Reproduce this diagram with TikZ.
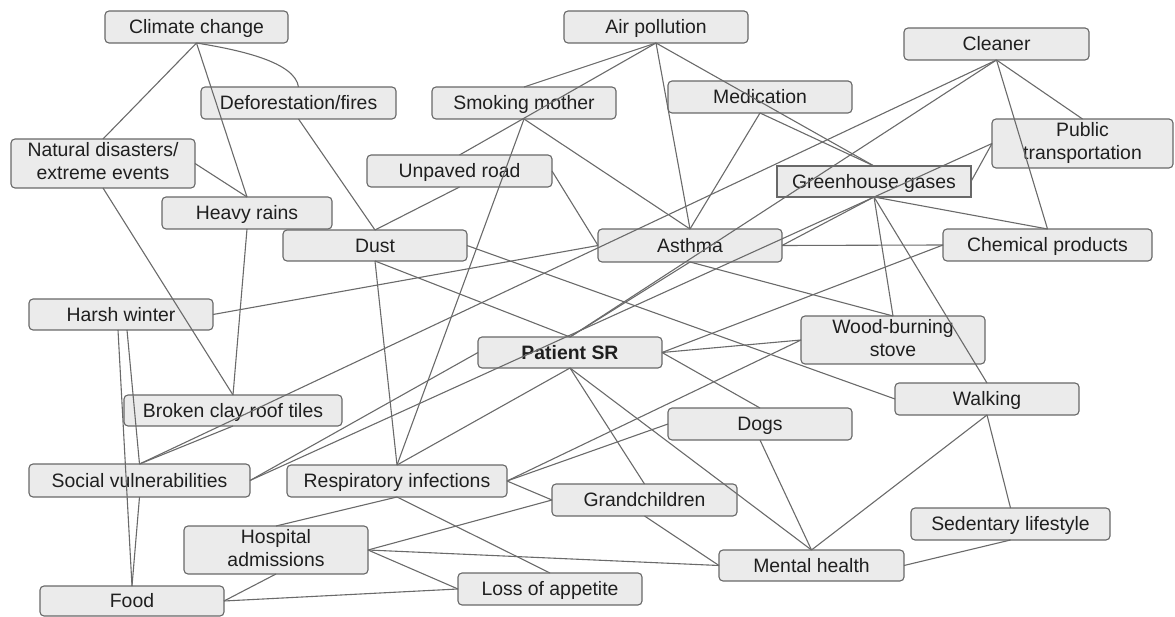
\documentclass[tikz,border=0pt]{standalone}
\usepackage{fontspec}
\setmainfont{Liberation Sans}
\definecolor{ln}{HTML}{6A6A6A}
\definecolor{bf}{HTML}{EBEBEB}
\definecolor{bd}{HTML}{686868}
\newcommand\ms{\rule[-4.1pt]{0pt}{21.7pt}}
\tikzset{
  box/.style={draw=bd, fill=bf, line width=1.1pt, rounded corners=4pt,
    inner sep=0pt, outer sep=0pt, minimum width=184pt, minimum height=32pt,
    align=center, font=\fontsize{19.4}{23}\selectfont, text=black!88,
    execute at begin node=\ms},
  conn/.style={draw=ln, line width=1.1pt},
}
\begin{document}
\begin{tikzpicture}[x=1pt,y=-1pt]
\useasboundingbox (0,0) rectangle (1175,617);
% nodes
\node[box, minimum width=183pt] (cc) at (196.5,27) {Climate change};
\node[box, minimum width=195pt] (def) at (298.5,103) {Deforestation/fires};
\node[box, minimum height=49pt] (nd) at (103,163.5) {Natural disasters/\\\ms extreme events};
\node[box, minimum width=170pt] (hr) at (247,213) {Heavy rains};
\node[box] (ap) at (656,27) {Air pollution};
\node[box] (sm) at (524,103) {Smoking mother};
\node[box] (med) at (760,97) {Medication};
\node[box, minimum width=185pt] (ur) at (459.5,171) {Unpaved road};
\node[box, minimum width=185pt] (cl) at (996.5,44) {Cleaner};
\node[box, minimum width=181pt, minimum height=49pt] (pt) at (1082.5,143.5) {Public\\\ms transportation};
\node[box, minimum width=194pt, minimum height=31pt, rounded corners=0pt] (gg) at (874,181.5) {Greenhouse gases};
\node[box, minimum height=31pt] (hw) at (121,314.5) {Harsh winter};
\node[box, minimum height=31pt] (dust) at (375,245.5) {Dust};
\node[box, minimum width=218pt, minimum height=31pt] (bct) at (233,410.5) {Broken clay roof tiles};
\node[box, minimum height=33pt] (asth) at (690,245.5) {Asthma};
\node[box, minimum height=31pt, font=\fontsize{19.4}{23}\selectfont\bfseries] (psr) at (570,352.5) {Patient SR};
\node[box, minimum width=209pt] (chem) at (1047.5,245) {Chemical products};
\node[box, minimum height=48pt] (wood) at (893,340) {Wood-burning\\\ms stove};
\node[box] (walk) at (987,399) {Walking};
\node[box, minimum width=221pt, minimum height=33pt] (sv) at (139.5,480.5) {Social vulnerabilities};
\node[box, minimum width=220pt] (resp) at (397,481) {Respiratory infections};
\node[box, minimum height=48pt] (hosp) at (276,550) {Hospital\\\ms admissions};
\node[box, minimum height=30pt] (food) at (132,601) {Food};
\node[box] (dogs) at (760,424) {Dogs};
\node[box, minimum width=185pt] (grand) at (644.5,500) {Grandchildren};
\node[box] (loss) at (550,589) {Loss of appetite};
\node[box, minimum width=185pt, minimum height=31pt] (mental) at (811.5,565.5) {Mental health};
\node[box, minimum width=199pt] (sed) at (1010.5,524) {Sedentary lifestyle};
% connectors
\draw[conn] (cc.south) -- (nd.north);
\draw[conn] (cc.south) -- (hr.north);
\draw[conn] (cc.south) .. controls (240,50) and (295,62) .. (def.north);
\draw[conn] (def.south) -- (dust.north);
\draw[conn] (nd.east) -- (hr.north);
\draw[conn] (nd.south) -- (bct.north);
\draw[conn] (hr.south) -- (bct.north);
\draw[conn] (ap.south) -- (sm.north);
\draw[conn] (ap.south) -- (ur.north);
\draw[conn] (ap.south) -- (asth.north);
\draw[conn] (ap.south) -- (gg.north);
\draw[conn] (med.south) -- (asth.north);
\draw[conn] (med.south) -- (gg.north);
\draw[conn] (cl.south) -- (pt.north);
\draw[conn] (cl.south) -- (chem.north);
\draw[conn] (cl.south) -- (sv.north);
\draw[conn] (cl.south) -- (psr.north);
\draw[conn] (pt.west) -- (gg.east);
\draw[conn] (pt.west) -- (sv.east);
\draw[conn] (ur.south) -- (dust.north);
\draw[conn] (ur.east) -- (asth.west);
\draw[conn] (sm.south) -- (resp.north);
\draw[conn] (sm.south) -- (asth.north);
\draw[conn] (hw.east) -- (asth.west);
\draw[conn] ([xshift=-3pt]hw.south) -- (food.north);
\draw[conn] ([xshift=6pt]hw.south) -- (sv.north);
\draw[conn] (sv.south) -- (food.north);
\draw[conn] (bct.south) -- (sv.north);
\draw[conn] (sv.east) -- (psr.west);
\draw[conn] (dust.south) -- (resp.north);
\draw[conn] (dust.south) -- (psr.north);
\draw[conn] (dust.east) -- (walk.west);
\draw[conn] (asth.east) -- (chem.west);
\draw[conn] (gg.south) -- (asth.east);
\draw[conn] (gg.south) -- (chem.north);
\draw[conn] (gg.south) -- (wood.north);
\draw[conn] (gg.south) -- (walk.north);
\draw[conn] (asth.south) -- (psr.north);
\draw[conn] (asth.south) -- (wood.north);
\draw[conn] (psr.east) -- (wood.west);
\draw[conn] (psr.east) -- (chem.west);
\draw[conn] (psr.east) -- (dogs.north);
\draw[conn] (psr.south) -- (resp.north);
\draw[conn] (psr.south) -- (grand.north);
\draw[conn] (psr.south) -- (mental.north);
\draw[conn] (resp.east) -- (dogs.west);
\draw[conn] (resp.east) -- (wood.west);
\draw[conn] (resp.east) -- (grand.west);
\draw[conn] (resp.south) -- (hosp.north);
\draw[conn] (resp.south) -- (loss.north);
\draw[conn] (hosp.east) -- (grand.west);
\draw[conn] (hosp.east) -- (mental.west);
\draw[conn] (hosp.east) -- (loss.west);
\draw[conn] (food.east) -- (hosp.south);
\draw[conn] (food.east) -- (loss.west);
\draw[conn] (grand.south) -- (mental.west);
\draw[conn] (dogs.south) -- (mental.north);
\draw[conn] (walk.south) -- (mental.north);
\draw[conn] (walk.south) -- (sed.north);
\draw[conn] (sed.south) -- (mental.east);
\end{tikzpicture}
\end{document}
